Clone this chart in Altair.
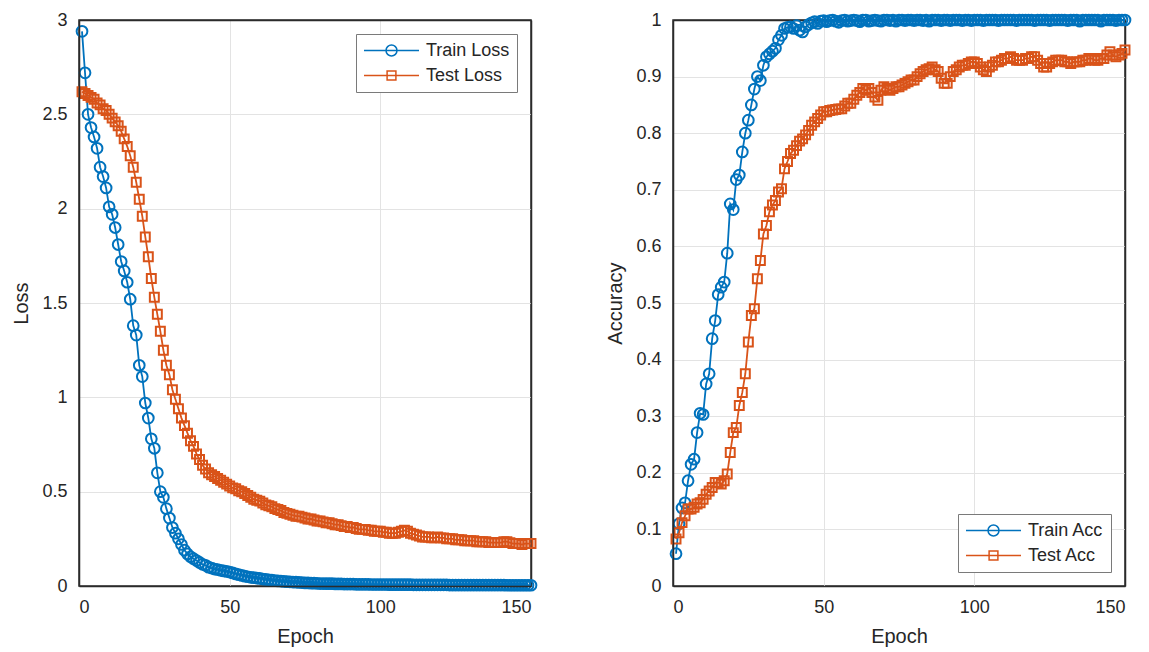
import altair as alt
import pandas as pd

epochs = list(range(1, 151))

train_loss = [
    2.94, 2.72, 2.50, 2.43, 2.38, 2.32, 2.22, 2.17, 2.11, 2.01,
    1.97, 1.90, 1.81, 1.72, 1.67, 1.61, 1.52, 1.38, 1.33, 1.17,
    1.11, 0.97, 0.89, 0.78, 0.73, 0.60, 0.50, 0.47, 0.41, 0.36,
    0.31, 0.28, 0.25, 0.22, 0.19, 0.17, 0.155, 0.145, 0.135, 0.125,
    0.115, 0.11, 0.10, 0.095, 0.09, 0.087, 0.083, 0.08, 0.077, 0.074,
    0.069, 0.064, 0.060, 0.056, 0.052, 0.049, 0.046, 0.044, 0.042, 0.040,
    0.037, 0.035, 0.033, 0.031, 0.029, 0.027, 0.026, 0.024, 0.023, 0.022,
    0.021, 0.020, 0.019, 0.018, 0.016, 0.016, 0.015, 0.015, 0.014, 0.013,
    0.013, 0.012, 0.012, 0.012, 0.011, 0.011, 0.011, 0.010, 0.010, 0.010,
    0.010, 0.009, 0.009, 0.009, 0.009, 0.009, 0.008, 0.008, 0.008, 0.008,
    0.008, 0.008, 0.007, 0.007, 0.007, 0.007, 0.007, 0.007, 0.007, 0.007,
    0.006, 0.006, 0.006, 0.006, 0.006, 0.006, 0.006, 0.006, 0.006, 0.006,
    0.006, 0.006, 0.005, 0.005, 0.005, 0.005, 0.005, 0.005, 0.005, 0.005,
    0.005, 0.005, 0.005, 0.005, 0.005, 0.005, 0.005, 0.005, 0.005, 0.005,
    0.005, 0.004, 0.004, 0.004, 0.004, 0.004, 0.004, 0.004, 0.004, 0.004,
]

test_loss = [
    2.62, 2.61, 2.60, 2.59, 2.58, 2.56, 2.55, 2.53, 2.52, 2.50,
    2.48, 2.46, 2.44, 2.41, 2.37, 2.33, 2.28, 2.22, 2.14, 2.05,
    1.96, 1.85, 1.745, 1.63, 1.53, 1.44, 1.35, 1.25, 1.17, 1.12,
    1.04, 0.99, 0.94, 0.89, 0.85, 0.81, 0.77, 0.74, 0.70, 0.67,
    0.64, 0.62, 0.60, 0.59, 0.58, 0.57, 0.56, 0.55, 0.54, 0.53,
    0.52, 0.515, 0.505, 0.50, 0.49, 0.48, 0.47, 0.46, 0.455, 0.45,
    0.44, 0.43, 0.425, 0.42, 0.41, 0.405, 0.40, 0.39, 0.385, 0.38,
    0.375, 0.37, 0.37, 0.365, 0.36, 0.355, 0.355, 0.35, 0.345, 0.345,
    0.34, 0.335, 0.335, 0.33, 0.325, 0.325, 0.32, 0.315, 0.315, 0.31,
    0.31, 0.305, 0.30, 0.30, 0.30, 0.295, 0.295, 0.29, 0.29, 0.29,
    0.285, 0.285, 0.28, 0.28, 0.28, 0.285, 0.29, 0.295, 0.29, 0.28,
    0.275, 0.27, 0.265, 0.26, 0.26, 0.26, 0.255, 0.255, 0.26, 0.255,
    0.255, 0.25, 0.25, 0.25, 0.245, 0.245, 0.245, 0.24, 0.24, 0.24,
    0.24, 0.235, 0.235, 0.235, 0.235, 0.23, 0.23, 0.23, 0.23, 0.23,
    0.235, 0.235, 0.23, 0.225, 0.225, 0.225, 0.22, 0.225, 0.225, 0.225,
]

train_acc = [
    0.057, 0.110, 0.138, 0.147, 0.186, 0.215, 0.224, 0.271, 0.305, 0.303,
    0.357, 0.375, 0.437, 0.469, 0.515, 0.528, 0.537, 0.588, 0.675, 0.665,
    0.718, 0.726, 0.767, 0.800, 0.823, 0.850, 0.878, 0.900, 0.893, 0.920,
    0.935, 0.940, 0.945, 0.950, 0.965, 0.973, 0.985, 0.987, 0.988, 0.985,
    0.990, 0.982, 0.979, 0.988, 0.992, 0.995, 0.997, 0.994, 0.998, 0.999,
    0.997, 0.999, 1.000, 0.998, 0.996, 0.999, 1.000, 0.998, 0.999, 1.000,
    0.999, 0.997, 1.000, 1.000, 0.998, 0.999, 1.000, 0.999, 0.998, 1.000,
    1.000, 0.999, 1.000, 0.998, 1.000, 1.000, 0.999, 1.000, 1.000, 0.999,
    1.000, 1.000, 0.999, 1.000, 0.998, 1.000, 1.000, 1.000, 0.999, 1.000,
    1.000, 0.999, 1.000, 1.000, 1.000, 0.999, 1.000, 1.000, 0.999, 1.000,
    1.000, 1.000, 0.999, 1.000, 1.000, 1.000, 1.000, 0.999, 1.000, 1.000,
    1.000, 1.000, 1.000, 0.999, 1.000, 1.000, 1.000, 1.000, 1.000, 0.999,
    1.000, 1.000, 1.000, 1.000, 0.999, 1.000, 1.000, 1.000, 1.000, 1.000,
    0.999, 1.000, 1.000, 1.000, 0.998, 1.000, 1.000, 1.000, 1.000, 1.000,
    1.000, 0.998, 1.000, 1.000, 1.000, 1.000, 0.999, 1.000, 1.000, 1.000,
]

test_acc = [
    0.083, 0.094, 0.112, 0.124, 0.136, 0.136, 0.139, 0.145, 0.147, 0.153,
    0.162, 0.168, 0.174, 0.183, 0.183, 0.180, 0.186, 0.198, 0.236, 0.271,
    0.280, 0.319, 0.342, 0.375, 0.431, 0.478, 0.490, 0.543, 0.575, 0.622,
    0.637, 0.661, 0.673, 0.681, 0.696, 0.702, 0.737, 0.750, 0.764, 0.770,
    0.778, 0.786, 0.790, 0.797, 0.805, 0.814, 0.820, 0.826, 0.832, 0.838,
    0.838, 0.840, 0.841, 0.842, 0.843, 0.843, 0.848, 0.853, 0.853, 0.860,
    0.867, 0.872, 0.879, 0.876, 0.879, 0.872, 0.864, 0.858, 0.876, 0.882,
    0.879, 0.876, 0.879, 0.882, 0.882, 0.885, 0.888, 0.891, 0.894, 0.894,
    0.900, 0.905, 0.909, 0.912, 0.914, 0.917, 0.912, 0.909, 0.897, 0.888,
    0.888, 0.900, 0.909, 0.912, 0.917, 0.920, 0.920, 0.923, 0.926, 0.926,
    0.923, 0.917, 0.912, 0.909, 0.917, 0.920, 0.926, 0.926, 0.929, 0.932,
    0.932, 0.935, 0.932, 0.929, 0.929, 0.929, 0.932, 0.932, 0.935, 0.935,
    0.929, 0.923, 0.917, 0.917, 0.923, 0.926, 0.929, 0.929, 0.929, 0.926,
    0.926, 0.923, 0.926, 0.926, 0.926, 0.929, 0.929, 0.932, 0.932, 0.929,
    0.929, 0.932, 0.932, 0.938, 0.944, 0.938, 0.935, 0.938, 0.941, 0.947,
]

loss_names = ["Train Loss", "Test Loss"]
acc_names = ["Train Acc", "Test Acc"]
x_ticks = [0, 50, 100, 150]
x_grid = [50, 100]
loss_ticks = [0, 0.5, 1, 1.5, 2, 2.5, 3]
loss_grid = [0.5, 1, 1.5, 2, 2.5]
acc_ticks = [0, 0.1, 0.2, 0.3, 0.4, 0.5, 0.6, 0.7, 0.8, 0.9, 1]
acc_grid = [0.1, 0.2, 0.3, 0.4, 0.5, 0.6, 0.7, 0.8, 0.9]

BLUE = "#0072BD"
ORANGE = "#D95319"
FONT = "Liberation Sans"
TXT = "#262626"
FRAME = "#2b2b2b"
GRID = "#e3e3e3"
CIRCLE_PATH = "M -1 0 L 1 0 M 0.2 0 A 0.2 0.2 0 1 1 -0.2 0 A 0.2 0.2 0 1 1 0.2 0 Z"
SQUARE_PATH = "M -1 0 L 1 0 M -0.16 -0.16 L 0.16 -0.16 L 0.16 0.16 L -0.16 0.16 Z"


def panel(a_vals, b_vals, names, ytitle, ydomain, yticks, ygrid, orient):
    df = pd.DataFrame({
        "Epoch": epochs + epochs,
        "value": a_vals + b_vals,
        "series": [names[0]] * len(epochs) + [names[1]] * len(epochs),
    })
    xs = alt.Scale(domain=[0, 150], nice=False)
    ys = alt.Scale(domain=ydomain, nice=False)
    x_main = alt.X("Epoch:Q", scale=xs,
                   axis=alt.Axis(values=x_ticks, title="Epoch", format="d", grid=False,
                                 domain=True, domainColor=FRAME, domainWidth=1.5,
                                 zindex=1))
    y_main = alt.Y("value:Q", scale=ys,
                   axis=alt.Axis(values=yticks, title=ytitle, format="~g", grid=False,
                                 domain=True, domainColor=FRAME, domainWidth=1.5,
                                 zindex=1))
    x_sec = alt.X("Epoch:Q", scale=xs,
                  axis=alt.Axis(orient="top", values=x_grid, labels=False, title=None,
                                grid=True, gridColor=GRID, domain=True,
                                domainColor=FRAME, domainWidth=1.5))
    y_sec = alt.Y("value:Q", scale=ys,
                  axis=alt.Axis(orient="right", values=ygrid, labels=False, title=None,
                                grid=True, gridColor=GRID, domain=True,
                                domainColor=FRAME, domainWidth=1.5))
    cscale = alt.Scale(domain=names, range=[BLUE, ORANGE])
    color_plain = alt.Color("series:N", scale=cscale, legend=None)
    leg = alt.Legend(title=None, orient=orient, offset=14, fillColor="white",
                     strokeColor="#7a7a7a", padding=7, labelFontSize=18,
                     labelFont=FONT, labelColor=TXT, symbolSize=3025,
                     symbolStrokeWidth=1.5, rowPadding=6, clipHeight=19,
                     labelOffset=6, labelLimit=300)
    color_leg = alt.Color("series:N", scale=cscale, legend=leg)
    shape_leg = alt.Shape("series:N",
                          scale=alt.Scale(domain=names, range=[CIRCLE_PATH, SQUARE_PATH]),
                          legend=leg)
    base_main = alt.Chart(df).encode(x=x_main, y=y_main)
    base_sec = alt.Chart(df).encode(x=x_sec, y=y_sec)
    draws = []
    for name, shp, sz in [(names[0], "circle", 115), (names[1], "square", 80)]:
        sub = base_sec.transform_filter(alt.datum.series == name)
        draws.append(sub.mark_line(strokeWidth=1.8).encode(color=color_plain))
        draws.append(sub.mark_point(shape=shp, filled=False, size=sz, strokeWidth=2,
                                    opacity=1).encode(color=color_plain))
    legend_layer = base_main.mark_point(filled=False, opacity=0).encode(
        color=color_leg, shape=shape_leg)
    return alt.layer(legend_layer, alt.layer(*draws)).resolve_axis(
        x="independent", y="independent"
    ).properties(width=452, height=566)


left = panel(train_loss, test_loss, loss_names, "Loss", [0, 3], loss_ticks, loss_grid, "top-right")
right = panel(train_acc, test_acc, acc_names, "Accuracy", [0, 1], acc_ticks, acc_grid, "bottom-right")

chart = alt.hconcat(left, right, spacing=63).resolve_scale(
    color="independent", shape="independent"
).resolve_legend(
    color="independent", shape="independent"
).properties(
    padding={"left": 3, "top": 1, "right": 5, "bottom": 5},
    background="white",
).configure_view(
    stroke=FRAME, strokeWidth=1.5
).configure_axis(
    labelFont=FONT, titleFont=FONT, labelFontSize=18, titleFontSize=20,
    labelColor=TXT, titleColor=TXT, titleFontWeight="normal",
    gridWidth=1, ticks=False, labelPadding=12, titlePadding=10,
).configure_legend(symbolOpacity=1)

chart.save("out.html", embed_options={"renderer": "svg", "actions": False})
